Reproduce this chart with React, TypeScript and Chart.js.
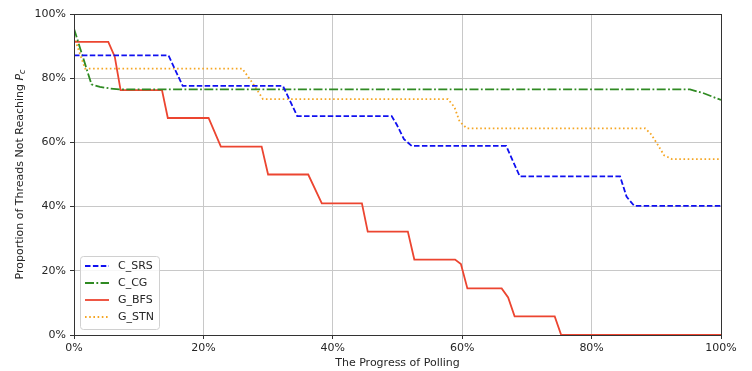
import React, { useEffect, useRef } from 'react';
import { Chart, registerables } from 'chart.js';

Chart.register(...registerables);

const seriesNames = ['C_SRS', 'C_CG', 'G_BFS', 'G_STN'];

const srsX = [0, 14.6, 16.8, 32.3, 34.5, 49.1, 49.9, 51.0, 52.2, 66.8, 68.9, 84.4, 85.4, 86.6, 100];
const srsY = [87.1, 87.1, 77.6, 77.6, 68.2, 68.2, 65.5, 61.0, 58.9, 58.9, 49.4, 49.4, 43.1, 40.2, 40.2];

const cgX = [0, 2.7, 4.0, 5.6, 7.0, 95.2, 97.2, 100];
const cgY = [95.4, 78.1, 77.3, 76.8, 76.5, 76.5, 75.4, 73.2];

const bfsX = [0, 5.3, 6.3, 7.2, 13.6, 14.5, 20.8, 22.7, 29.0, 30.0, 36.2, 38.3, 44.5, 45.4, 51.6, 52.6, 58.9, 59.8, 60.8, 66.1, 67.1, 68.1, 74.3, 75.3, 100];
const bfsY = [91.3, 91.3, 86.7, 76.3, 76.3, 67.6, 67.6, 58.7, 58.7, 50.0, 50.0, 41.0, 41.0, 32.2, 32.2, 23.5, 23.5, 22.1, 14.5, 14.5, 11.7, 5.8, 5.8, 0, 0];

const stnX = [0, 1.7, 26.0, 27.6, 29.2, 57.8, 58.8, 59.6, 60.7, 88.3, 89.2, 90.1, 91.2, 92.4, 100];
const stnY = [93.0, 83.0, 83.0, 78.5, 73.5, 73.5, 71.0, 66.5, 64.4, 64.4, 62.5, 59.7, 56.0, 54.8, 54.8];

const tickValues = [0, 20, 40, 60, 80, 100];
const xTitle = 'The Progress of Polling';
const yTitle = 'Proportion of Threads Not Reaching ';

const colors = ['#1010f0', '#2f8a22', '#ec4530', '#f5a623'];
const dashes: number[][] = [[5.5, 2.4], [9, 2.4, 1.8, 2.4], [], [1.6, 2.6]];

const FONT = '"DejaVu Sans", sans-serif';
const TEXT = '#262626';

function pts(xs: number[], ys: number[]) {
  return xs.map((x, i) => ({ x, y: ys[i] }));
}

const overlay = {
  id: 'overlay',
  afterDraw(chart: any) {
    const ctx = chart.ctx as CanvasRenderingContext2D;
    const a = chart.chartArea;
    ctx.save();
    // frame
    ctx.strokeStyle = '#333';
    ctx.lineWidth = 1;
    ctx.setLineDash([]);
    ctx.strokeRect(Math.round(a.left) + 0.5, Math.round(a.top) + 0.5, Math.round(a.right - a.left), Math.round(a.bottom - a.top));

    // x title
    ctx.fillStyle = TEXT;
    ctx.font = `11px ${FONT}`;
    ctx.textAlign = 'center';
    ctx.textBaseline = 'middle';
    ctx.fillText(xTitle, (a.left + a.right) / 2, 363);

    // y title
    ctx.save();
    ctx.translate(20, (a.top + a.bottom) / 2);
    ctx.rotate(-Math.PI / 2);
    ctx.textAlign = 'left';
    ctx.textBaseline = 'middle';
    ctx.font = `11px ${FONT}`;
    const w1 = ctx.measureText(yTitle).width;
    ctx.font = `italic 11px ${FONT}`;
    const w2 = ctx.measureText('P').width;
    ctx.font = `italic 8px ${FONT}`;
    const w3 = ctx.measureText('c').width;
    const total = w1 + w2 + w3;
    let x0 = -total / 2;
    ctx.font = `11px ${FONT}`;
    ctx.fillText(yTitle, x0, 0);
    x0 += w1;
    ctx.font = `italic 11px ${FONT}`;
    ctx.fillText('P', x0, 0);
    x0 += w2;
    ctx.font = `italic 8px ${FONT}`;
    ctx.fillText('c', x0, 3);
    ctx.restore();

    // legend
    const lx = a.left + 6.5, ly = 256.5, lw = 79, lh = 73;
    ctx.beginPath();
    const r = 3;
    ctx.moveTo(lx + r, ly);
    ctx.lineTo(lx + lw - r, ly);
    ctx.quadraticCurveTo(lx + lw, ly, lx + lw, ly + r);
    ctx.lineTo(lx + lw, ly + lh - r);
    ctx.quadraticCurveTo(lx + lw, ly + lh, lx + lw - r, ly + lh);
    ctx.lineTo(lx + r, ly + lh);
    ctx.quadraticCurveTo(lx, ly + lh, lx, ly + lh - r);
    ctx.lineTo(lx, ly + r);
    ctx.quadraticCurveTo(lx, ly, lx + r, ly);
    ctx.closePath();
    ctx.fillStyle = 'rgba(255,255,255,0.85)';
    ctx.fill();
    ctx.strokeStyle = '#d0d0d0';
    ctx.lineWidth = 1;
    ctx.stroke();

    chart.data.datasets.forEach((ds: any, i: number) => {
      const y = 266 + i * 17;
      ctx.beginPath();
      ctx.strokeStyle = ds.borderColor;
      ctx.lineWidth = ds.borderWidth;
      ctx.setLineDash(ds.borderDash || []);
      ctx.moveTo(85, y);
      ctx.lineTo(109, y);
      ctx.stroke();
      ctx.setLineDash([]);
      ctx.fillStyle = TEXT;
      ctx.font = `11px ${FONT}`;
      ctx.textAlign = 'left';
      ctx.textBaseline = 'middle';
      ctx.fillText(ds.label, 118, y);
    });
    ctx.restore();
  },
};

export default function App() {
  const ref = useRef<HTMLCanvasElement | null>(null);

  useEffect(() => {
    if (!ref.current) return;
    const xs = [srsX, cgX, bfsX, stnX];
    const ys = [srsY, cgY, bfsY, stnY];
    const chart = new Chart(ref.current, {
      type: 'line',
      data: {
        datasets: seriesNames.map((name, i) => ({
          label: name,
          data: pts(xs[i], ys[i]),
          borderColor: colors[i],
          backgroundColor: colors[i],
          borderWidth: 1.8,
          borderDash: dashes[i],
          pointRadius: 0,
          tension: 0,
          fill: false,
        })),
      },
      options: {
        responsive: false,
        animation: false,
        layout: { padding: { left: 0, right: 31, top: 14, bottom: 0 } },
        plugins: {
          legend: { display: false },
          tooltip: { enabled: false },
        },
        scales: {
          x: {
            type: 'linear',
            min: 0,
            max: 100,
            afterFit: (s: any) => { s.height = 36; },
            afterBuildTicks: (s: any) => { s.ticks = tickValues.map((v) => ({ value: v })); },
            grid: { color: '#c8c8c8', lineWidth: 1, tickColor: '#333', tickLength: 4 },
            border: { display: true, color: '#333' },
            ticks: { color: TEXT, font: { family: FONT, size: 11 }, padding: 3, maxRotation: 0, callback: (v: any) => v + '%' },
          },
          y: {
            type: 'linear',
            min: 0,
            max: 100,
            afterFit: (s: any) => { s.width = 74; },
            afterBuildTicks: (s: any) => { s.ticks = tickValues.map((v) => ({ value: v })); },
            grid: { color: '#c8c8c8', lineWidth: 1, tickColor: '#333', tickLength: 4 },
            border: { display: true, color: '#333' },
            ticks: { color: TEXT, font: { family: FONT, size: 11 }, padding: 4, callback: (v: any) => v + '%' },
          },
        },
      },
      plugins: [overlay],
    });
    return () => chart.destroy();
  }, []);

  return (
    <div style={{ position: 'absolute', left: 0, top: 0, width: 752, height: 371, background: '#fff' }}>
      <canvas ref={ref} width={752} height={371} />
    </div>
  );
}
